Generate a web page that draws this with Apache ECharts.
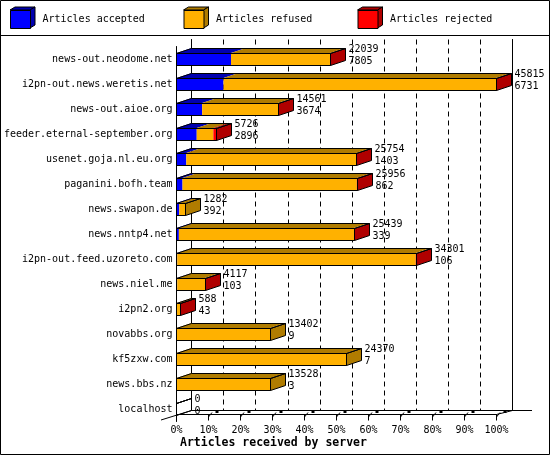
<!DOCTYPE html>
<html>
<head>
<meta charset="utf-8">
<script src="https://cdn.jsdelivr.net/npm/echarts@6/dist/echarts.min.js"></script>
<style>
html,body{margin:0;padding:0;background:#fff;}
#chart{width:550px;height:455px;}
</style>
</head>
<body>
<div id="chart"></div>
<script>
const hosts = ['news-out.neodome.net','i2pn-out.news.weretis.net','news-out.aioe.org','feeder.eternal-september.org','usenet.goja.nl.eu.org','paganini.bofh.team','news.swapon.de','news.nntp4.net','i2pn-out.feed.uzoreto.com','news.niel.me','i2pn2.org','novabbs.org','kf5zxw.com','news.bbs.nz','localhost'];
const offered  = [22039, 45815, 14561, 5726, 25754, 25956, 1282, 25439, 34301, 4117, 588, 13402, 24370, 13528, 0];
const accepted = [7805, 6731, 3674, 2896, 1403, 862, 392, 339, 106, 103, 43, 9, 7, 3, 0];
const refused  = [14194, 39024, 10857, 2380, 24331, 24954, 890, 25070, 34145, 3974, 505, 13393, 24363, 13525, 0];
const rejected = [40, 60, 30, 450, 20, 140, 0, 30, 50, 40, 40, 0, 0, 0, 0];
const tickValues = [0,10,20,30,40,50,60,70,80,90,100];
const tickLabels = ['0%','10%','20%','30%','40%','50%','60%','70%','80%','90%','100%'];
const seriesNames = ['Articles accepted','Articles refused','Articles rejected'];

const FRONT = ['#0000ff','#ffb100','#ff0000'];
const DARK  = ['#0000b0','#b07c00','#b00000'];
const MONO = '"DejaVu Sans Mono", "Liberation Mono", monospace';
const DX = 15, DY = 5, HALF = 6;

const rows = hosts.map((h,i)=>i);
const segs = [accepted, refused, rejected];
const segData = segs.map((arr,k)=>rows.map(i=>{
  let s = 0; for (let j=0;j<k;j++) s += segs[j][i];
  return [s, s+arr[i], i];
}));
const maxTotal = Math.max(...rows.map(i=>accepted[i]+refused[i]+rejected[i]));

function segRender(k){
  return function(params, api){
    const s = api.value(0), e = api.value(1), row = api.value(2);
    if (e <= s) return null;
    const p0 = api.coord([s,row]), p1 = api.coord([e,row]);
    const yc = p0[1];
    const yt = yc - HALF, yb = yc + HALF;
    return {type:'group', children:[
      {type:'rect', shape:{x:p0[0], y:yt, width:p1[0]-p0[0], height:yb-yt}, style:{fill:FRONT[k]}},
      {type:'polygon', shape:{points:[[p0[0],yt],[p0[0]+DX,yt-DY],[p1[0]+DX,yt-DY],[p1[0],yt]]}, style:{fill:DARK[k]}}
    ]};
  };
}

const outlineData = rows.map(i=>{
  const tot = accepted[i]+refused[i]+rejected[i];
  let last = -1;
  if (rejected[i]>0) last = 2; else if (refused[i]>0) last = 1; else if (accepted[i]>0) last = 0;
  return [tot, i, last];
});

function outlineRender(params, api){
  const tot = api.value(0), row = api.value(1), last = api.value(2);
  const i = params.dataIndex;
  const p0 = api.coord([0,row]), p1 = api.coord([tot,row]);
  const x0 = Math.round(p0[0]-0.5)+0.5;
  const x1 = Math.round(p1[0]-0.5)+0.5;
  const yc = p0[1];
  const yt = Math.round(yc-HALF)+0.5, yb = Math.round(yc+HALF)+0.5;
  const ln = {stroke:'#000', lineWidth:1};
  const ch = [];
  ch.push({type:'polygon', shape:{points:[[x1,yt],[x1+DX,yt-DY],[x1+DX,yb-DY],[x1,yb]]}, style:{fill: last>=0?DARK[last]:'none', stroke:'#000', lineWidth:1}});
  ch.push({type:'polygon', shape:{points:[[x0,yt],[x0+DX,yt-DY],[x1+DX,yt-DY],[x1,yt]]}, style:Object.assign({fill:'none'},ln)});
  ch.push({type:'rect', shape:{x:x0, y:yt, width:x1-x0, height:yb-yt}, style:Object.assign({fill:'none'},ln)});
  const tx = x1 + DX + 3;
  ch.push({type:'text', style:{text:String(offered[i]), x:tx, y:yc-10, fill:'#000', font:'10px '+MONO, verticalAlign:'middle', align:'left'}});
  ch.push({type:'text', style:{text:String(accepted[i]), x:tx, y:yc+2, fill:'#000', font:'10px '+MONO, verticalAlign:'middle', align:'left'}});
  return {type:'group', children:ch};
}

function tickDecoRender(params, api){
  const v = api.value(0);
  if (v === 0) return null;
  const p = api.coord([v,0]);
  const x = Math.round(p[0]-0.5)+0.5;
  return {type:'group', children:[
    {type:'line', shape:{x1:x, y1:417, x2:x+3.5, y2:412.5}, style:{stroke:'#000', lineWidth:1}},
    {type:'rect', shape:{x:x+7, y:411, width:3, height:2}, style:{fill:'#000'}}
  ]};
}

const legendCommon = {icon:'rect', itemWidth:20, itemHeight:18, top:10, padding:0, selectedMode:false,
  itemStyle:{borderColor:'#000', borderWidth:1},
  textStyle:{fontFamily:MONO, fontSize:10, color:'#000', padding:[0,0,0,7]}};
const legendLefts = [10, 183.5, 357.5];

const graphic = [
  {type:'rect', shape:{x:0.5,y:0.5,width:549,height:454}, style:{fill:'none', stroke:'#000', lineWidth:1}, z:100},
  {type:'line', shape:{x1:0,y1:35.5,x2:550,y2:35.5}, style:{stroke:'#000', lineWidth:1}},
  {type:'line', shape:{x1:512.5,y1:410.5,x2:532,y2:410.5}, style:{stroke:'#000', lineWidth:1}},
  {type:'line', shape:{x1:496.5,y1:414.5,x2:512.5,y2:410.5}, style:{stroke:'#000', lineWidth:1}},
  {type:'line', shape:{x1:161,y1:420,x2:191.5,y2:410.5}, style:{stroke:'#000', lineWidth:1}}
];
legendLefts.forEach((lx,k)=>{
  graphic.push({type:'polygon', shape:{points:[[lx,10],[lx+5,7],[lx+25,7],[lx+20,10]]}, style:{fill:DARK[k], stroke:'#000', lineWidth:1}});
  graphic.push({type:'polygon', shape:{points:[[lx+20,10],[lx+25,7],[lx+25,25],[lx+20,28]]}, style:{fill:DARK[k], stroke:'#000', lineWidth:1}});
});

const option = {
  animation:false,
  backgroundColor:'#fff',
  title:{text:'Articles received by server', left:180, top:437, padding:0,
    textStyle:{fontFamily:MONO, fontWeight:'bold', fontSize:11.5, color:'#000'}},
  legend: legendLefts.map((lx,k)=>Object.assign({}, legendCommon, {left:lx, data:[seriesNames[k]]})),
  graphic: graphic,
  grid:[
    {left:176.5, top:46.5, width:320, height:375},
    {left:191.5, top:39.5, width:321, height:371},
    {left:176.5, top:46.5, width:320, height:368}
  ],
  xAxis:[
    {gridIndex:0, type:'value', min:0, max:maxTotal, show:false},
    {gridIndex:1, type:'value', min:0, max:100, interval:10,
      axisLine:{show:true, onZero:false, lineStyle:{color:'#000', width:1}},
      axisTick:{show:false}, axisLabel:{show:false},
      splitLine:{show:true, lineStyle:{color:'#000', width:1, type:[5,4]}}},
    {gridIndex:2, type:'value', min:0, max:100, interval:10,
      axisLine:{show:true, onZero:false, lineStyle:{color:'#000', width:1}},
      axisTick:{show:true, length:6, lineStyle:{color:'#000'}},
      axisLabel:{show:true, margin:11, color:'#000', fontFamily:MONO, fontSize:10,
        formatter:(v)=>tickLabels[tickValues.indexOf(v)]},
      splitLine:{show:false}}
  ],
  yAxis:[
    {gridIndex:0, type:'category', data:hosts, inverse:true,
      axisLine:{show:true, onZero:false, lineStyle:{color:'#000', width:1}},
      axisTick:{show:false},
      axisLabel:{margin:4, color:'#000', fontFamily:MONO, fontSize:10},
      splitLine:{show:false}},
    {gridIndex:1, type:'value', min:0, max:1, position:'left',
      axisLine:{show:true, onZero:false, lineStyle:{color:'#000', width:1}},
      axisTick:{show:false}, axisLabel:{show:false}, splitLine:{show:false}},
    {gridIndex:1, type:'value', min:0, max:1, position:'right',
      axisLine:{show:true, onZero:false, lineStyle:{color:'#000', width:1}},
      axisTick:{show:false}, axisLabel:{show:false}, splitLine:{show:false}},
    {gridIndex:2, type:'value', min:0, max:1, show:false}
  ],
  series:[
    ...seriesNames.map((name,k)=>({
      name:name, type:'custom', xAxisIndex:0, yAxisIndex:0, z:2,
      itemStyle:{color:FRONT[k]},
      renderItem:segRender(k), data:segData[k],
      encode:{x:[0,1], y:2}
    })),
    {name:'outline', type:'custom', xAxisIndex:0, yAxisIndex:0, z:3,
      renderItem:outlineRender, data:outlineData, encode:{x:0, y:1}},
    {name:'ticks', type:'custom', xAxisIndex:2, yAxisIndex:3, z:3,
      renderItem:tickDecoRender, data:tickValues.map(v=>[v,0]), encode:{x:0, y:1}}
  ]
};

const chart = echarts.init(document.getElementById('chart'), null, {renderer:'canvas'});
chart.setOption(option);
</script>
</body>
</html>
